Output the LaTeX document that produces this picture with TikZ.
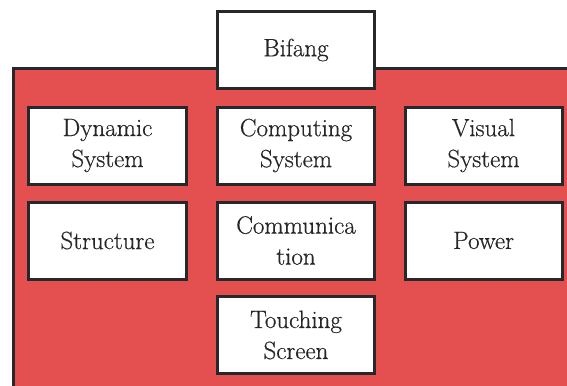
\documentclass[tikz,border=0pt]{standalone}
\usepackage{fontspec}
\newfontfamily\lmthick{Latin Modern Roman}[FakeBold=0.5]
\definecolor{panelred}{RGB}{228,80,80}
\definecolor{edgedark}{RGB}{38,40,44}
\begin{document}
\begin{tikzpicture}[x=1bp,y=-1bp,
  cell/.style={draw=edgedark, line width=3bp, fill=white, minimum width=157bp, minimum height=77bp,
    inner sep=0pt, align=center, text=black!85, font=\lmthick\fontsize{25bp}{31bp}\selectfont}]
\useasboundingbox (0,0) rectangle (567,385);
\fill[white] (0,0) rectangle (567,385);
\draw[edgedark, line width=3bp, fill=panelred] (13.5,68.5) rectangle (600,420);
\node[cell] (bifang) at (296,50) {Bifang};
\node[cell] (dyn) at (107.5,145.5) {Dynamic\\System};
\node[cell] (comp) at (296,145.5) {Computing\\System};
\node[cell] (vis) at (483.5,145.5) {Visual\\System};
\node[cell] (struct) at (107.5,240.5) {Structure};
\node[cell] (comm) at (296,240.5) {Communica\\tion};
\node[cell] (power) at (483.5,240.5) {Power};
\node[cell] (touch) at (296,335) {Touching\\Screen};
\end{tikzpicture}
\end{document}
